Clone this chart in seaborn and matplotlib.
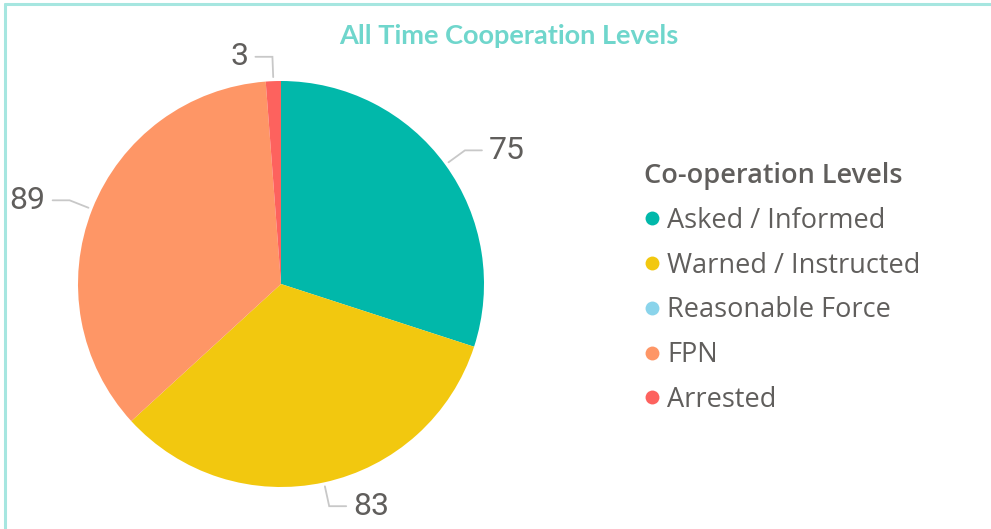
import matplotlib
matplotlib.use("Agg")
import matplotlib.pyplot as plt
import seaborn as sns
import numpy as np
from matplotlib.lines import Line2D

# ---- data ----
categories = ["Asked / Informed", "Warned / Instructed", "Reasonable Force", "FPN", "Arrested"]
values = [75, 83, 0, 89, 3]
colors = ["#01B8AA", "#F2C80F", "#8AD4EB", "#FE9666", "#FD625E"]
chart_title = "All Time Cooperation Levels"
legend_title = "Co-operation Levels"

sns.set_theme(style="white")
plt.rcParams['font.family'] = ['Open Sans', 'DejaVu Sans']

W, H = 991, 529
fig = plt.figure(figsize=(W / 100, H / 100), dpi=100)
fig.patch.set_facecolor("white")

cx, cy, r = 281, 284, 203
ax = fig.add_axes([(cx - r) / W, (H - cy - r) / H, 2 * r / W, 2 * r / H])
wedges, _ = ax.pie(values, colors=colors, startangle=90, counterclock=False,
                   radius=1, wedgeprops=dict(linewidth=0))
ax.set_xlim(-1, 1)
ax.set_ylim(-1, 1)
ax.set_aspect("equal")
ax.axis("off")

# data labels with elbow leader lines
px = 1.0 / r
for w, v in zip(wedges, values):
    if v == 0:
        continue
    mid = np.deg2rad((w.theta1 + w.theta2) / 2.0)
    c, s = np.cos(mid), np.sin(mid)
    x0, y0 = 1.02 * c, 1.02 * s
    x1, y1 = 1.12 * c, 1.12 * s
    d = 1 if c >= 0 else -1
    x2 = x1 + d * 17 * px
    ax.plot([x0, x1, x2], [y0, y1, y1], color="#C8C8C8", lw=1.3, clip_on=False,
            solid_joinstyle="miter")
    ax.text(x2 + d * 7 * px, y1, str(v), ha="left" if d > 0 else "right",
            va="center", fontsize=23, color="#605E5C", family=["Roboto", "DejaVu Sans"],
            clip_on=False)

# title
fig.text(509 / W, 1 - 36 / H, chart_title, ha="center", va="center", fontsize=19.5,
         fontweight="bold", color="#6FD6CC", family=["Lato", "DejaVu Sans"])

# legend
handles = [Line2D([0], [0], marker="o", linestyle="none", markersize=10,
                  markerfacecolor=col, markeredgewidth=0) for col in colors]
leg = fig.legend(handles, categories, title=legend_title, loc="upper left",
                 bbox_to_anchor=(644 / W, 1 - 162 / H), frameon=False,
                 fontsize=19.5, title_fontsize=19.5, alignment="left",
                 handlelength=0.6, handletextpad=0.25, labelspacing=0.62,
                 borderpad=0, borderaxespad=0)
for t in leg.get_texts():
    t.set_color("#605E5C")
leg.get_title().set_color("#605E5C")
leg.get_title().set_fontweight("semibold")

# frame border (top and left visible)
bc = "#A6E6E0"
fig.add_artist(Line2D([5 / W, 5 / W], [0, 1 - 4 / H], color=bc, lw=2.2,
                      transform=fig.transFigure))
fig.add_artist(Line2D([5 / W, 1], [1 - 4 / H, 1 - 4 / H], color=bc, lw=2.2,
                      transform=fig.transFigure))

fig.savefig("out.png", dpi=100, facecolor="white")
